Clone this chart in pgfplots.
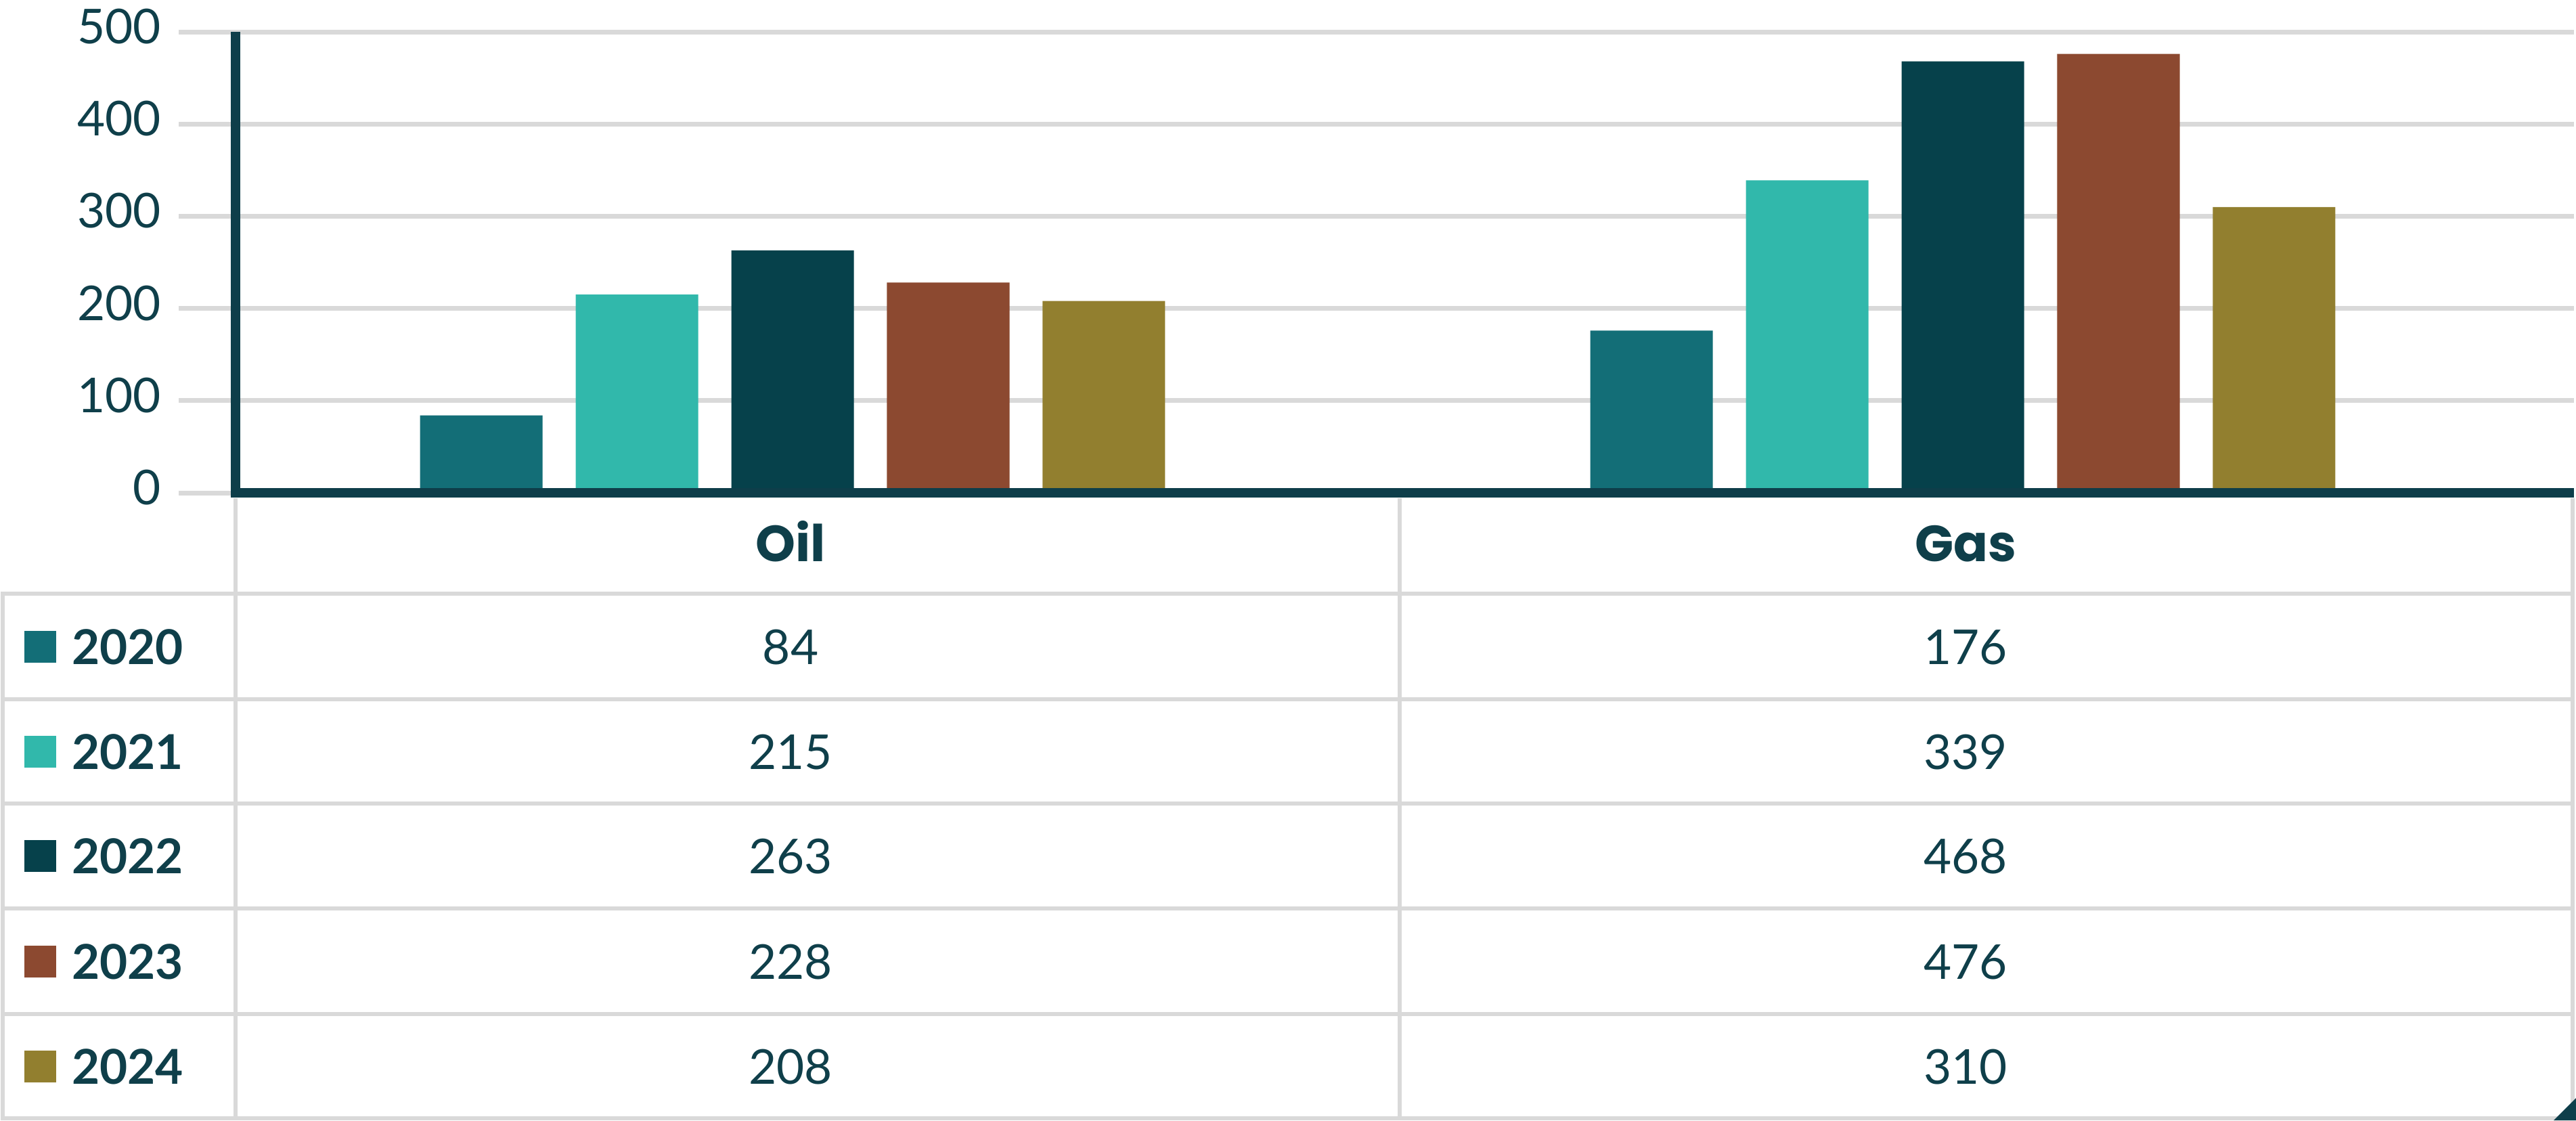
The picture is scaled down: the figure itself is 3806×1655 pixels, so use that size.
\documentclass[border=0pt]{standalone}
\usepackage{pgfplots}
\pgfplotsset{compat=1.18}
\usepackage{fontspec}
\setmainfont{Lato}
\newfontfamily\popfont{Poppins}
\definecolor{txt}{HTML}{0F3F4A}
\definecolor{axc}{HTML}{0E3E4A}
\definecolor{gridc}{HTML}{D9D9D9}
\definecolor{c20}{HTML}{136E77}
\definecolor{c21}{HTML}{31B8AB}
\definecolor{c22}{HTML}{06414B}
\definecolor{c23}{HTML}{8C4930}
\definecolor{c24}{HTML}{927F2F}
\newcommand{\fs}{\fontsize{14.2pt}{17pt}\selectfont}
\begin{document}
\begin{tikzpicture}
\begin{axis}[
  at={(69.6pt,-145.6pt)}, anchor=south west,
  scale only axis, width=691pt, height=136.2pt,
  xmin=-0.476, xmax=1.5223, ymin=0, ymax=500,
  axis lines=left, axis line style={-, draw=axc, line width=2.8pt},
  xtick=\empty, ytick={0,100,200,300,400,500},
  ymajorgrids, grid style={draw=gridc, line width=1.4pt},
  tick align=outside, major tick length=16.8pt,
  ytick style={draw=gridc, line width=1.4pt},
  yticklabel style={font=\fs, text=txt, xshift=-1.7pt, yshift=1.6pt},
  /pgf/number format/assume math mode=true,
  ybar, bar width=0.1047, clip=false,
]
\addplot[fill=c20, draw=none, bar shift=-0.266] coordinates {(0,84) (1,176)};
\addplot[fill=c21, draw=none, bar shift=-0.133] coordinates {(0,215) (1,339)};
\addplot[fill=c22, draw=none, bar shift=0] coordinates {(0,263) (1,468)};
\addplot[fill=c23, draw=none, bar shift=0.133] coordinates {(0,228) (1,476)};
\addplot[fill=c24, draw=none, bar shift=0.266] coordinates {(0,208) (1,310)};
\draw[axc, line width=2.8pt] ([xshift=-1.4pt]rel axis cs:0,0) -- (rel axis cs:1,0);
\end{axis}
\begin{scope}[x=0.2pt, y=-0.2pt, gl/.style={draw=gridc, line width=1.3pt}]
  \foreach \y in {877,1033,1187,1342,1498,1652} \draw[gl] (1,\y) -- (3804,\y);
  \draw[gl] (4,874) -- (4,1655);
  \foreach \x in {348,2068,3801} \draw[gl] (\x,736) -- (\x,1655);
  \node[anchor=base, inner sep=0, text=txt, font=\popfont\bfseries\fontsize{15pt}{18pt}\selectfont] at (1168,829) {Oil};
  \node[anchor=base, inner sep=0, text=txt, font=\popfont\bfseries\fontsize{15pt}{18pt}\selectfont] at (2904,829) {Gas};
  \foreach \yc/\yr/\col/\a/\b in {955/2020/c20/84/176, 1110/2021/c21/215/339, 1264.5/2022/c22/263/468, 1420/2023/c23/228/476, 1575/2024/c24/208/310} {
    \fill[\col] (36,\yc-23.5) rectangle (83,\yc+23.5);
    \node[anchor=base west, inner sep=0, text=txt, font=\fs\bfseries] at (105,\yc+26) {\yr};
    \node[anchor=base, inner sep=0, text=txt, font=\fs] at (1168,\yc+26) {\a};
    \node[anchor=base, inner sep=0, text=txt, font=\fs] at (2904,\yc+26) {\b};
  }
  \fill[axc] (3773,1655) -- (3806,1622) -- (3806,1655) -- cycle;
  \pgfresetboundingbox
  \path[use as bounding box] (0,0) rectangle (3806,1655);
\end{scope}
\end{tikzpicture}
\end{document}
